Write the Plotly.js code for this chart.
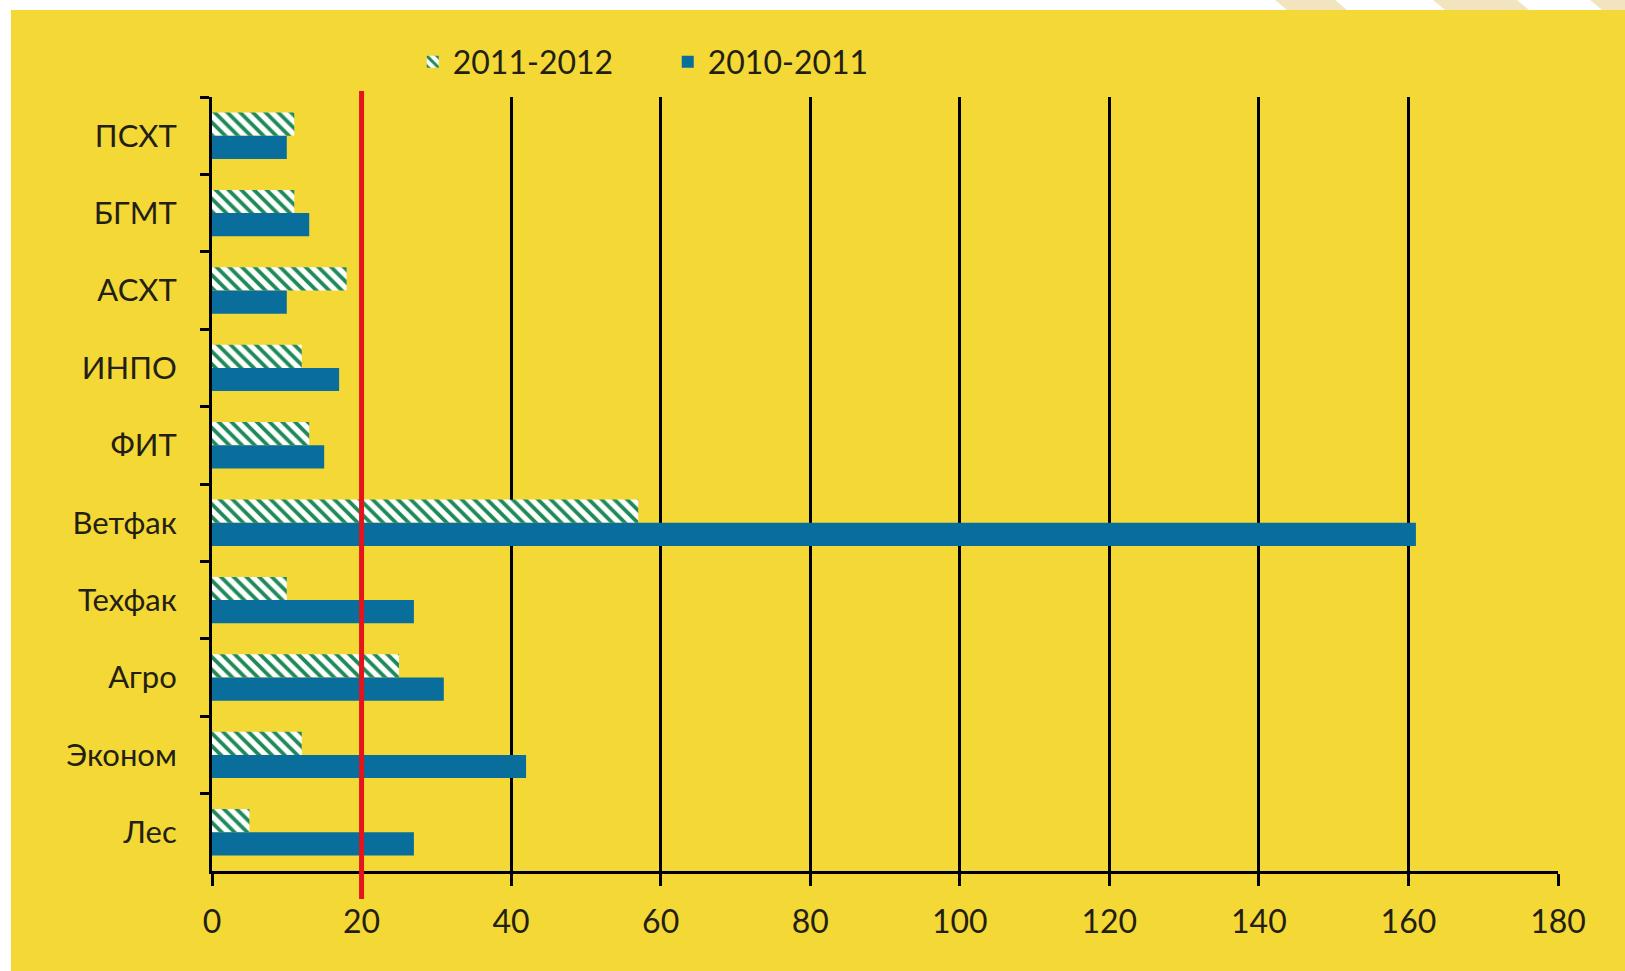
<!DOCTYPE html>
<html>
<head>
<meta charset="utf-8">
<script src="https://cdn.plot.ly/plotly-3.0.1.min.js"></script>
<style>
html,body{margin:0;padding:0;background:#ffffff;}
#chart{width:1625px;height:971px;}
</style>
</head>
<body>
<div id="chart"></div>
<script>
// Data (top-to-bottom order as in the picture)
var categories = ["ПСХТ", "БГМТ", "АСХТ", "ИНПО", "ФИТ", "Ветфак", "Техфак", "Агро", "Эконом", "Лес"];
var series2011_2012 = [11, 11, 18, 12, 13, 57, 10, 25, 12, 5];
var series2010_2011 = [10, 13, 10, 17, 15, 161, 27, 31, 42, 27];
var seriesNames = ["2011-2012", "2010-2011"];
var xTickValues = [0, 20, 40, 60, 80, 100, 120, 140, 160, 180];
var thresholdValue = 20;

var FONT = "Lato, 'Open Sans', 'Liberation Sans', sans-serif";
var TXT = "#231f14";

var traces = [
  {
    type: "bar",
    orientation: "h",
    name: seriesNames[0],
    y: categories,
    x: series2011_2012,
    marker: {
      color: "#ffffff",
      line: {width: 0},
      pattern: {shape: "\\", fgcolor: "#1f8a58", bgcolor: "#ffffff", size: 9, solidity: 0.42, fillmode: "replace"}
    },
    hoverinfo: "x+y+name"
  },
  {
    type: "bar",
    orientation: "h",
    name: seriesNames[1],
    y: categories,
    x: series2010_2011,
    marker: {color: "#0a6e9c", line: {width: 0}},
    hoverinfo: "x+y+name"
  }
];

// Plot area in pixels: x 212..1558, y 97..871
var L = 212, R = 1558, T = 97, B = 871;
var W = R - L, H = B - T;
function px(xp){ return (xp - L) / W; }
function py(yp){ return (B - yp) / H; }

function para(x0top, x1top, slant){
  return "M" + px(x0top) + "," + py(0) + " L" + px(x1top) + "," + py(0) +
         " L" + px(x1top + slant) + "," + py(10) + " L" + px(x0top + slant) + "," + py(10) + " Z";
}

var shapes = [
  {type: "rect", xref: "paper", yref: "paper", x0: px(11), x1: px(1640), y0: py(990), y1: py(10),
   fillcolor: "#f3d836", line: {width: 0}, layer: "below"},
  {type: "path", xref: "paper", yref: "paper", path: para(1275, 1335, 12), fillcolor: "#f2e4be", line: {width: 0}, layer: "below"},
  {type: "path", xref: "paper", yref: "paper", path: para(1433, 1517, 12), fillcolor: "#f2e4be", line: {width: 0}, layer: "below"},
  {type: "path", xref: "paper", yref: "paper", path: para(1590, 1660, 12), fillcolor: "#f2e4be", line: {width: 0}, layer: "below"},
  {type: "line", xref: "x", yref: "paper", x0: thresholdValue, x1: thresholdValue, y0: py(899), y1: py(91),
   line: {color: "#e3141c", width: 5}, layer: "above"}
];

var layout = {
  width: 1625,
  height: 971,
  paper_bgcolor: "#ffffff",
  plot_bgcolor: "rgba(0,0,0,0)",
  margin: {l: L, r: 1625 - R, t: T, b: 971 - B, pad: 0},
  font: {family: FONT, color: TXT, size: 30},
  barmode: "group",
  bargap: 0.4,
  bargroupgap: 0,
  showlegend: true,
  legend: {
    orientation: "h",
    xref: "container", yref: "container",
    x: 0.254, xanchor: "left",
    y: 1 - 62 / 971, yanchor: "middle",
    font: {family: FONT, size: 32, color: TXT},
    bgcolor: "rgba(0,0,0,0)",
    traceorder: "normal",
    itemwidth: 30,
    entrywidth: 210,
    entrywidthmode: "pixels"
  },
  xaxis: {
    range: [0, 180],
    tickmode: "array",
    tickvals: xTickValues,
    ticktext: xTickValues.map(String),
    showgrid: true,
    gridcolor: "#000000",
    gridwidth: 3,
    zeroline: false,
    showline: true,
    linecolor: "#000000",
    linewidth: 3,
    ticks: "outside",
    ticklen: 12,
    tickwidth: 3,
    tickcolor: "#000000",
    ticklabelstandoff: 9,
    tickfont: {family: FONT, size: 32, color: TXT},
    fixedrange: true
  },
  yaxis: {
    type: "category",
    categoryorder: "array",
    categoryarray: categories,
    autorange: "reversed",
    showgrid: false,
    zeroline: false,
    showline: true,
    linecolor: "#000000",
    linewidth: 3,
    ticks: "outside",
    tickson: "boundaries",
    ticklen: 9,
    tickwidth: 3,
    tickcolor: "#000000",
    ticklabelstandoff: 26,
    tickfont: {family: FONT, size: 31, color: TXT},
    fixedrange: true
  },
  shapes: shapes
};

Plotly.newPlot("chart", traces, layout, {displayModeBar: false, responsive: false, staticPlot: true});
</script>
</body>
</html>
